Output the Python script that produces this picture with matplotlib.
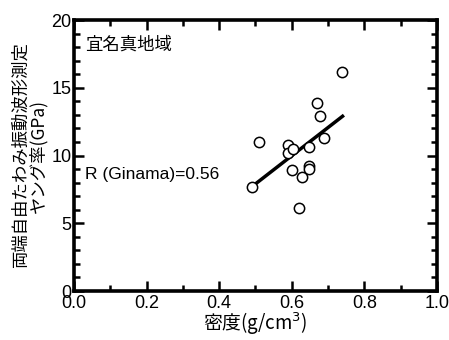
import matplotlib
matplotlib.use("Agg")
import matplotlib.pyplot as plt
import numpy as np
from matplotlib.ticker import MultipleLocator, FormatStrFormatter

plt.rcParams['font.family'] = ['Liberation Sans', 'Noto Sans CJK JP', 'DejaVu Sans']

density = [0.738, 0.669, 0.678, 0.689, 0.648, 0.590, 0.590, 0.604, 0.510,
           0.490, 0.600, 0.628, 0.647, 0.647, 0.620]
young = [16.2, 13.9, 12.9, 11.3, 10.6, 10.8, 10.2, 10.5, 11.0,
         7.7, 8.9, 8.4, 9.2, 9.0, 6.1]
fit_x = [0.49, 0.74]
fit_y = [7.7, 12.9]

fig = plt.figure(figsize=(4.49, 3.40), dpi=100)
ax = fig.add_axes([0.165, 0.144, 0.808, 0.797])

ax.plot(fit_x, fit_y, color='black', lw=2.5, zorder=2)
ax.scatter(density, young, s=55, facecolors='white', edgecolors='black',
           linewidths=1.1, zorder=3)

ax.set_xlim(0, 1.0)
ax.set_ylim(0, 20)
ax.xaxis.set_major_locator(MultipleLocator(0.2))
ax.xaxis.set_minor_locator(MultipleLocator(0.1))
ax.xaxis.set_major_formatter(FormatStrFormatter('%.1f'))
ax.yaxis.set_major_locator(MultipleLocator(5))
ax.yaxis.set_minor_locator(MultipleLocator(1))
ax.tick_params(which='both', direction='in', top=True, right=True,
               labelsize=13, width=1.8, pad=2)
ax.tick_params(axis='x', which='major', pad=3)
ax.tick_params(which='major', length=7)
ax.tick_params(which='minor', length=4)
for s in ax.spines.values():
    s.set_linewidth(2.6)

ax.set_xlabel('密度(g/cm$^3$)', fontsize=13.5, family=['Noto Sans CJK JP'], labelpad=-1)
ax.set_ylabel('両端自由たわみ振動波形測定\nヤング率(GPa)', fontsize=12.5,
              family=['Noto Sans CJK JP'], linespacing=0.9, labelpad=3)

ax.text(0.03, 0.91, '宜名真地域', transform=ax.transAxes, fontsize=12.5,
        family=['Noto Sans CJK JP'], va='center')
ax.text(0.03, 0.43, 'R (Ginama)=0.56', transform=ax.transAxes, fontsize=12.5,
        va='center')

fig.savefig('out.png', dpi=100)
